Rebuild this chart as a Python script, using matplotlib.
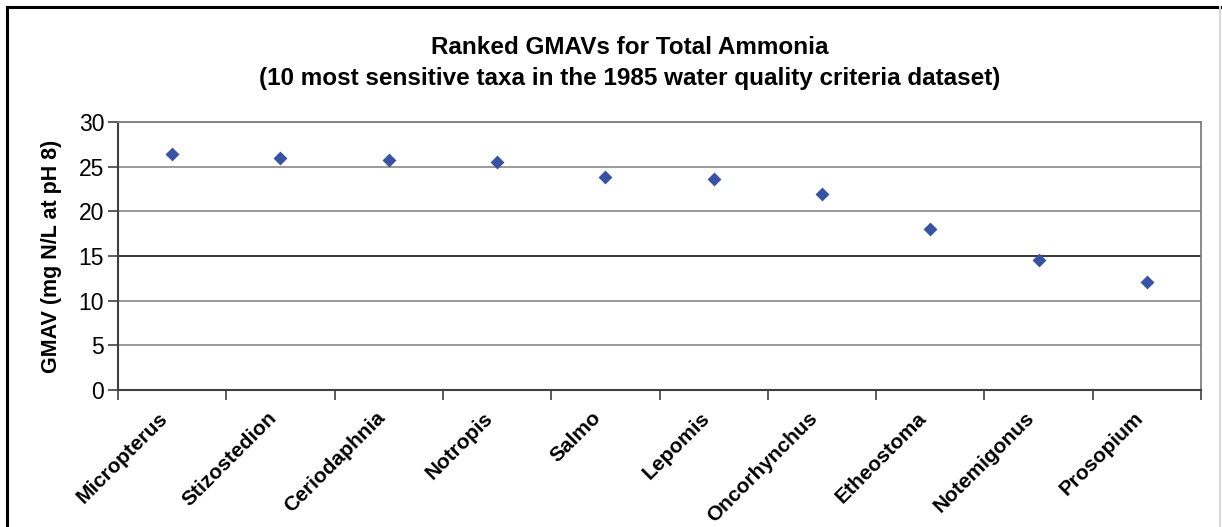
import matplotlib.pyplot as plt
import matplotlib.transforms as mtransforms
from matplotlib.lines import Line2D

plt.rcParams['font.family'] = ['Liberation Sans', 'DejaVu Sans']

# 数据
taxa = ['Micropterus', 'Stizostedion', 'Ceriodaphnia', 'Notropis', 'Salmo',
        'Lepomis', 'Oncorhynchus', 'Etheostoma', 'Notemigonus', 'Prosopium']
gmav = [26.4, 26.0, 25.7, 25.5, 23.8, 23.6, 21.9, 18.0, 14.6, 12.1]
y_ticks = [0, 5, 10, 15, 20, 25, 30]

fig = plt.figure(figsize=(12.22, 5.27), dpi=100)
ax = fig.add_axes([118 / 1222, 1 - 390 / 527, (1201 - 118) / 1222, (390 - 122) / 527])

# 网格线
for v in y_ticks[1:]:
    ax.axhline(v, color='black' if v == 15 else '#7f7f7f', linewidth=1.1, zorder=1)

x = range(len(taxa))
ax.scatter(x, gmav, marker='D', s=50, color='#3953A4', zorder=3, linewidths=0)

ax.set_xlim(-0.5, len(taxa) - 0.5)
ax.set_ylim(0, 30)
ax.set_yticks(y_ticks)
ax.set_yticklabels([str(v) for v in y_ticks], fontsize=16.5)
ax.tick_params(axis='y', direction='out', length=7, width=1.2, color='#404040', pad=3)

# x 轴：刻度在类别之间，标签在类别中心
ax.set_xticks([i - 0.5 for i in range(len(taxa) + 1)])
ax.set_xticklabels([])
ax.set_xticks(list(x), minor=True)
ax.set_xticklabels(taxa, minor=True, rotation=45, ha='right', va='center',
                   rotation_mode='anchor', fontsize=15, fontweight='bold')
ax.tick_params(axis='x', which='major', direction='out', length=7, width=1.2, color='#404040')
ax.tick_params(axis='x', which='minor', length=0, pad=18)
offset = mtransforms.ScaledTranslation(-7 / 100, 0, fig.dpi_scale_trans)
for lbl in ax.get_xticklabels(minor=True):
    lbl.set_transform(lbl.get_transform() + offset)

for side in ['left', 'bottom']:
    ax.spines[side].set_color('#404040')
    ax.spines[side].set_linewidth(1.5)
for side in ['top', 'right']:
    ax.spines[side].set_color('#7f7f7f')
    ax.spines[side].set_linewidth(1.3)

ax.set_ylabel('GMAV (mg N/L at pH 8)', fontsize=15.5, fontweight='bold', labelpad=12)

# 标题（两行）
fig.text(630 / 1222, 1 - 47 / 527, 'Ranked GMAVs for Total Ammonia', ha='center', va='center',
         fontsize=17.5, fontweight='bold')
fig.text(630 / 1222, 1 - 79 / 527, '(10 most sensitive taxa in the 1985 water quality criteria dataset)',
         ha='center', va='center', fontsize=17.5, fontweight='bold')

# 外框
fig.add_artist(Line2D([7 / 1222, 7 / 1222], [0, 1 - 7 / 527], color='black', linewidth=2.2,
                      transform=fig.transFigure))
fig.add_artist(Line2D([7 / 1222, 1220 / 1222], [1 - 7 / 527, 1 - 7 / 527], color='black',
                      linewidth=2.2, transform=fig.transFigure))
fig.add_artist(Line2D([1220 / 1222, 1220 / 1222], [0, 1 - 7 / 527], color='#d9d9d9',
                      linewidth=1.5, transform=fig.transFigure))

plt.savefig('out.png', dpi=100)
plt.close()
